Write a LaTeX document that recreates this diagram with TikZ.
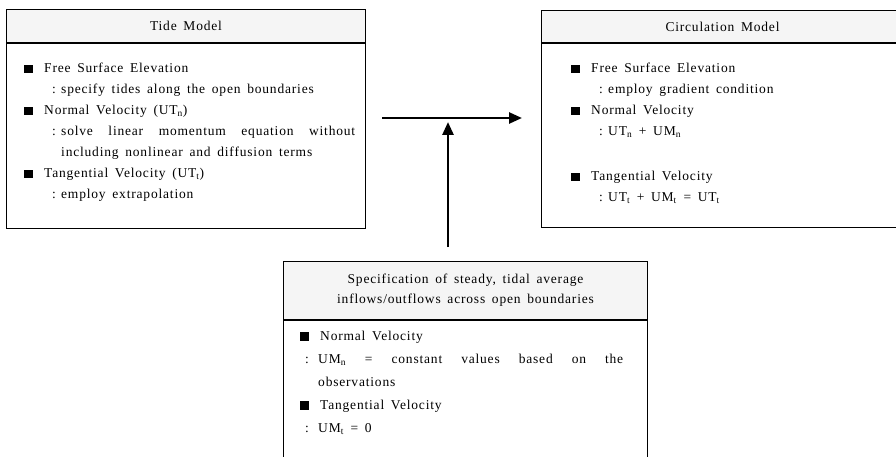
\documentclass[tikz,border=0pt]{standalone}
\usepackage{fontspec}
\setmainfont{Liberation Serif}[WordSpace=1.6,LetterSpace=6]
\usetikzlibrary{arrows.meta}

\newcommand{\blk}{\rule[-0.3pt]{8.5pt}{8.5pt}}
\newcommand{\itm}[1]{\makebox[20pt][l]{\blk}#1}
\newcommand{\dsc}[1]{\hspace{28pt}\makebox[9pt][l]{:}#1}
\newcommand{\cnt}[1]{\hspace{37pt}#1}

\tikzset{
  boxhead/.style={draw, line width=1pt, fill=black!4, anchor=north west, inner sep=0pt,
    align=center, font=\fontsize{13.5}{20}\selectfont},
  boxbody/.style={draw, line width=1pt, anchor=north west, inner sep=0pt},
  listtext/.style={anchor=north west, inner sep=0pt, align=left, font=\fontsize{13.5}{21}\selectfont},
  arr/.style={line width=2.6pt, -{Triangle[length=13pt,width=11pt]}}
}

\begin{document}
\begin{tikzpicture}[x=1pt,y=-1pt]
    \useasboundingbox (0,0) rectangle (896,457);
    \clip (0,0) rectangle (896,457);

    % tide model
    \node[boxhead, minimum width=359pt, minimum height=33pt] (tidehead) at (6,9) {Tide Model};
    \node[boxbody, minimum width=359pt, minimum height=185pt] (tide) at (tidehead.south west) {};
    \node[listtext] (tidetext) at (24,63) {%
        \itm{Free Surface Elevation}\\
        \dsc{specify tides along the open boundaries}\\
        \itm{Normal Velocity (UT\textsubscript{n})}\\
        \dsc{\makebox[294pt][s]{solve linear momentum equation without}}\\
        \cnt{including nonlinear and diffusion terms}\\
        \itm{Tangential Velocity (UT\textsubscript{t})}\\
        \dsc{employ extrapolation}};

    % circulation model
    \node[boxhead, minimum width=362pt, minimum height=32pt] (circhead) at (541,10) {Circulation Model};
    \node[boxbody, minimum width=362pt, minimum height=184pt] (circ) at (circhead.south west) {};
    \node[listtext] (circtext) at (571,63) {%
        \itm{Free Surface Elevation}\\
        \dsc{employ gradient condition}\\
        \itm{Normal Velocity}\\
        \dsc{UT\textsubscript{n} + UM\textsubscript{n}}\\
        \mbox{}\\[3pt]
        \itm{Tangential Velocity}\\
        \dsc{UT\textsubscript{t} + UM\textsubscript{t} = UT\textsubscript{t}}};

    % steady inflows/outflows
    \node[boxhead, minimum width=364pt, minimum height=58pt] (spechead) at (283,261)
        {Specification of steady, tidal average\\inflows/outflows across open boundaries};
    \node[boxbody, minimum width=364pt, minimum height=200pt] (spec) at (spechead.south west) {};
    \node[listtext, font=\fontsize{13.5}{23}\selectfont] (spectext) at (300,331) {%
        \itm{Normal Velocity}\\
        \hspace{5pt}\makebox[13pt][l]{:}\makebox[305pt][s]{UM\textsubscript{n} = constant values based on the}\\
        \hspace{18pt}observations\\
        \itm{Tangential Velocity}\\
        \hspace{5pt}\makebox[13pt][l]{:}UM\textsubscript{t} = 0};

    % arrows
    \coordinate (hstart) at (382,118);
    \coordinate (hend) at (522,118);
    \coordinate (vstart) at (448,247);
    \coordinate (vend) at (448,122);
    \draw[arr] (hstart) -- (hend);
    \draw[arr] (vstart) -- (vend);
\end{tikzpicture}
\end{document}
